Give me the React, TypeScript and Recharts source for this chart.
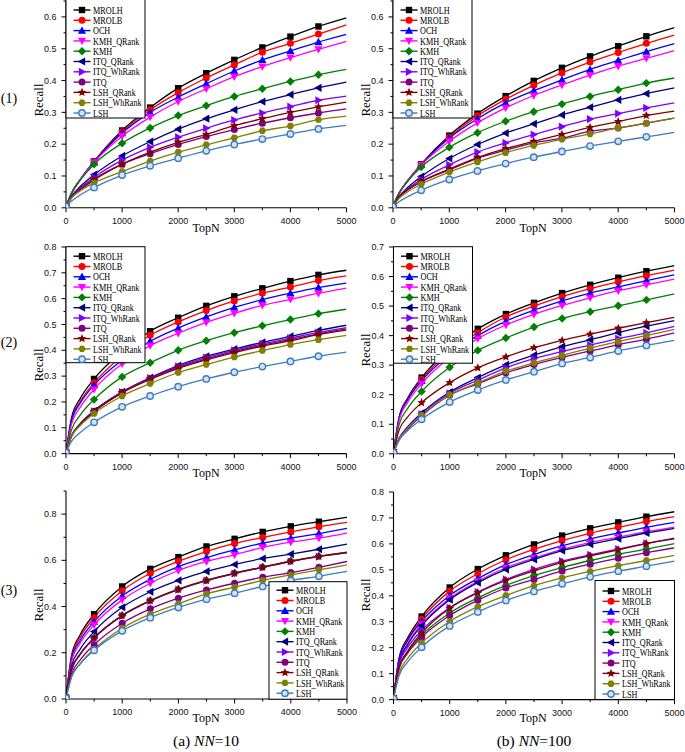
import React from "react"
import { Line, LineChart, XAxis, YAxis } from "recharts"

// Recall vs TopN, three datasets (rows) x two neighbour counts (columns).
const SERIES = [
  "MROLH",
  "MROLB",
  "OCH",
  "KMH_QRank",
  "KMH",
  "ITQ_QRank",
  "ITQ_WhRank",
  "ITQ",
  "LSH_QRank",
  "LSH_WhRank",
  "LSH",
]
const COLORS = [
  "#000000",
  "#ff0000",
  "#0000ff",
  "#ff00ff",
  "#008000",
  "#000080",
  "#8000ff",
  "#800080",
  "#800000",
  "#808000",
  "#3c7dbf",
]
const MARKERS = ["square", "circle", "up", "down", "diamond", "left", "right", "circle", "star", "hex", "ring"]

const TOPN = [0, 100, 250, 500, 1000, 1500, 2000, 2500, 3000, 3500, 4000, 4500, 5000]
const X_TICKS = [0, 500, 1000, 1500, 2000, 2500, 3000, 3500, 4000, 4500, 5000]
const X_LABELS = [0, 1000, 2000, 3000, 4000, 5000]

// (1), NN=10
const ROW1_NN10 = [
  [0.004, 0.046, 0.088, 0.146, 0.243, 0.315, 0.376, 0.423, 0.465, 0.504, 0.538, 0.57, 0.597],
  [0.004, 0.046, 0.088, 0.145, 0.239, 0.308, 0.362, 0.408, 0.449, 0.489, 0.517, 0.546, 0.575],
  [0.004, 0.045, 0.087, 0.143, 0.235, 0.3, 0.348, 0.39, 0.43, 0.465, 0.493, 0.521, 0.545],
  [0.004, 0.046, 0.088, 0.143, 0.225, 0.285, 0.334, 0.374, 0.412, 0.444, 0.472, 0.498, 0.523],
  [0.004, 0.048, 0.086, 0.137, 0.203, 0.251, 0.29, 0.321, 0.35, 0.374, 0.397, 0.418, 0.435],
  [0.004, 0.037, 0.066, 0.104, 0.163, 0.208, 0.247, 0.28, 0.308, 0.334, 0.356, 0.377, 0.395],
  [0.004, 0.034, 0.062, 0.096, 0.15, 0.19, 0.222, 0.25, 0.276, 0.298, 0.318, 0.338, 0.351],
  [0.004, 0.034, 0.059, 0.09, 0.137, 0.17, 0.199, 0.224, 0.246, 0.266, 0.283, 0.298, 0.311],
  [0.004, 0.031, 0.055, 0.087, 0.137, 0.175, 0.206, 0.231, 0.258, 0.28, 0.3, 0.317, 0.332],
  [0.004, 0.032, 0.053, 0.078, 0.114, 0.147, 0.175, 0.198, 0.22, 0.242, 0.257, 0.277, 0.288],
  [0.004, 0.021, 0.04, 0.064, 0.103, 0.132, 0.156, 0.179, 0.199, 0.216, 0.232, 0.248, 0.259],
]

// (1), NN=100
const ROW1_NN100 = [
  [0.004, 0.043, 0.083, 0.137, 0.227, 0.296, 0.351, 0.399, 0.44, 0.476, 0.508, 0.539, 0.566],
  [0.004, 0.043, 0.083, 0.136, 0.222, 0.289, 0.341, 0.385, 0.424, 0.458, 0.488, 0.517, 0.543],
  [0.004, 0.043, 0.082, 0.135, 0.219, 0.28, 0.33, 0.368, 0.402, 0.435, 0.463, 0.491, 0.516],
  [0.004, 0.044, 0.083, 0.134, 0.209, 0.267, 0.314, 0.353, 0.386, 0.417, 0.445, 0.47, 0.494],
  [0.004, 0.045, 0.081, 0.128, 0.19, 0.236, 0.272, 0.302, 0.326, 0.35, 0.371, 0.392, 0.408],
  [0.004, 0.034, 0.062, 0.098, 0.155, 0.199, 0.235, 0.264, 0.292, 0.316, 0.339, 0.359, 0.377],
  [0.004, 0.033, 0.058, 0.089, 0.135, 0.175, 0.204, 0.23, 0.255, 0.279, 0.296, 0.314, 0.33],
  [0.004, 0.032, 0.055, 0.082, 0.119, 0.155, 0.181, 0.204, 0.219, 0.24, 0.251, 0.266, 0.282],
  [0.004, 0.032, 0.055, 0.082, 0.122, 0.158, 0.186, 0.209, 0.231, 0.253, 0.271, 0.29, 0.304],
  [0.004, 0.028, 0.049, 0.074, 0.112, 0.144, 0.173, 0.196, 0.215, 0.232, 0.251, 0.266, 0.282],
  [0.004, 0.018, 0.034, 0.055, 0.089, 0.116, 0.139, 0.159, 0.177, 0.194, 0.209, 0.223, 0.237],
]

// (2), NN=10
const ROW2_NN10 = [
  [0.004, 0.14, 0.212, 0.289, 0.395, 0.474, 0.526, 0.572, 0.609, 0.64, 0.668, 0.692, 0.71],
  [0.004, 0.13, 0.2, 0.274, 0.378, 0.458, 0.51, 0.554, 0.591, 0.621, 0.645, 0.67, 0.688],
  [0.004, 0.128, 0.194, 0.265, 0.362, 0.435, 0.486, 0.529, 0.566, 0.596, 0.621, 0.643, 0.66],
  [0.004, 0.115, 0.178, 0.249, 0.348, 0.418, 0.466, 0.508, 0.543, 0.574, 0.597, 0.621, 0.641],
  [0.004, 0.093, 0.148, 0.209, 0.297, 0.352, 0.4, 0.437, 0.468, 0.495, 0.519, 0.542, 0.559],
  [0.004, 0.07, 0.115, 0.166, 0.239, 0.294, 0.341, 0.377, 0.405, 0.431, 0.454, 0.477, 0.497],
  [0.004, 0.069, 0.113, 0.164, 0.238, 0.292, 0.338, 0.372, 0.4, 0.425, 0.447, 0.469, 0.488],
  [0.004, 0.068, 0.112, 0.163, 0.237, 0.29, 0.334, 0.367, 0.395, 0.42, 0.442, 0.464, 0.483],
  [0.004, 0.068, 0.112, 0.162, 0.235, 0.287, 0.33, 0.363, 0.391, 0.416, 0.437, 0.461, 0.478],
  [0.004, 0.067, 0.108, 0.155, 0.223, 0.271, 0.314, 0.345, 0.374, 0.399, 0.422, 0.441, 0.458],
  [0.004, 0.048, 0.081, 0.121, 0.181, 0.223, 0.259, 0.289, 0.315, 0.337, 0.357, 0.377, 0.393],
]

// (2), NN=100
const ROW2_NN100 = [
  [0.004, 0.123, 0.188, 0.258, 0.355, 0.423, 0.473, 0.511, 0.544, 0.572, 0.596, 0.618, 0.637],
  [0.004, 0.122, 0.184, 0.252, 0.345, 0.41, 0.463, 0.5, 0.532, 0.559, 0.582, 0.603, 0.622],
  [0.004, 0.121, 0.182, 0.247, 0.336, 0.4, 0.449, 0.486, 0.518, 0.544, 0.565, 0.586, 0.606],
  [0.004, 0.113, 0.173, 0.237, 0.326, 0.39, 0.436, 0.472, 0.502, 0.528, 0.552, 0.572, 0.591],
  [0.004, 0.099, 0.153, 0.211, 0.293, 0.35, 0.392, 0.429, 0.458, 0.481, 0.501, 0.521, 0.541],
  [0.004, 0.053, 0.091, 0.138, 0.209, 0.258, 0.301, 0.334, 0.363, 0.386, 0.41, 0.432, 0.451],
  [0.004, 0.051, 0.088, 0.134, 0.205, 0.249, 0.291, 0.322, 0.346, 0.368, 0.39, 0.409, 0.431],
  [0.004, 0.047, 0.083, 0.128, 0.198, 0.237, 0.274, 0.302, 0.326, 0.348, 0.369, 0.388, 0.409],
  [0.004, 0.08, 0.124, 0.173, 0.241, 0.291, 0.328, 0.359, 0.384, 0.405, 0.425, 0.444, 0.462],
  [0.004, 0.049, 0.086, 0.131, 0.2, 0.24, 0.28, 0.308, 0.333, 0.358, 0.38, 0.4, 0.421],
  [0.004, 0.046, 0.078, 0.117, 0.175, 0.216, 0.25, 0.278, 0.306, 0.326, 0.348, 0.367, 0.384],
]

// (3), NN=10
const ROW3_NN10 = [
  [0.004, 0.19, 0.277, 0.367, 0.487, 0.563, 0.614, 0.66, 0.693, 0.723, 0.747, 0.767, 0.786],
  [0.004, 0.182, 0.265, 0.352, 0.468, 0.544, 0.596, 0.638, 0.673, 0.699, 0.723, 0.745, 0.764],
  [0.004, 0.174, 0.252, 0.335, 0.446, 0.518, 0.573, 0.612, 0.645, 0.674, 0.696, 0.716, 0.738],
  [0.004, 0.163, 0.24, 0.321, 0.429, 0.501, 0.556, 0.595, 0.624, 0.656, 0.679, 0.696, 0.718],
  [0.004, 0.128, 0.193, 0.264, 0.362, 0.426, 0.475, 0.514, 0.545, 0.571, 0.597, 0.618, 0.635],
  [0.004, 0.144, 0.215, 0.292, 0.397, 0.464, 0.513, 0.552, 0.582, 0.608, 0.627, 0.648, 0.67],
  [0.004, 0.127, 0.192, 0.262, 0.36, 0.424, 0.473, 0.512, 0.543, 0.569, 0.595, 0.616, 0.633],
  [0.004, 0.108, 0.168, 0.235, 0.328, 0.39, 0.436, 0.472, 0.501, 0.527, 0.547, 0.57, 0.595],
  [0.004, 0.128, 0.194, 0.265, 0.361, 0.425, 0.474, 0.513, 0.544, 0.57, 0.596, 0.617, 0.634],
  [0.004, 0.095, 0.152, 0.215, 0.306, 0.367, 0.412, 0.455, 0.484, 0.513, 0.537, 0.559, 0.58],
  [0.004, 0.097, 0.151, 0.211, 0.295, 0.352, 0.396, 0.432, 0.458, 0.487, 0.513, 0.531, 0.552],
]

// (3), NN=100
const ROW3_NN100 = [
  [0.004, 0.161, 0.237, 0.32, 0.432, 0.503, 0.556, 0.598, 0.632, 0.66, 0.683, 0.705, 0.724],
  [0.004, 0.156, 0.23, 0.31, 0.418, 0.485, 0.539, 0.579, 0.613, 0.641, 0.664, 0.686, 0.705],
  [0.004, 0.156, 0.227, 0.301, 0.401, 0.466, 0.52, 0.559, 0.593, 0.619, 0.642, 0.664, 0.683],
  [0.004, 0.146, 0.215, 0.29, 0.39, 0.456, 0.508, 0.545, 0.579, 0.605, 0.626, 0.647, 0.665],
  [0.004, 0.125, 0.184, 0.248, 0.334, 0.392, 0.44, 0.478, 0.509, 0.536, 0.56, 0.58, 0.601],
  [0.004, 0.143, 0.211, 0.285, 0.385, 0.451, 0.502, 0.54, 0.574, 0.599, 0.62, 0.642, 0.66],
  [0.004, 0.138, 0.2, 0.266, 0.354, 0.414, 0.463, 0.502, 0.534, 0.558, 0.58, 0.602, 0.622],
  [0.004, 0.121, 0.178, 0.24, 0.324, 0.383, 0.43, 0.463, 0.496, 0.522, 0.545, 0.566, 0.585],
  [0.004, 0.122, 0.186, 0.256, 0.352, 0.412, 0.459, 0.496, 0.529, 0.554, 0.577, 0.601, 0.619],
  [0.004, 0.102, 0.158, 0.218, 0.301, 0.358, 0.401, 0.439, 0.469, 0.494, 0.516, 0.536, 0.556],
  [0.004, 0.093, 0.144, 0.202, 0.284, 0.338, 0.382, 0.417, 0.446, 0.473, 0.495, 0.514, 0.534],
]

const Y_TICKS_065 = [0, 0.05, 0.1, 0.15, 0.2, 0.25, 0.3, 0.35, 0.4, 0.45, 0.5, 0.55, 0.6, 0.65]
const Y_LABELS_06 = [0, 0.1, 0.2, 0.3, 0.4, 0.5, 0.6]
const Y_TICKS_08 = [0, 0.05, 0.1, 0.15, 0.2, 0.25, 0.3, 0.35, 0.4, 0.45, 0.5, 0.55, 0.6, 0.65, 0.7, 0.75, 0.8]
const Y_LABELS_08 = [0, 0.1, 0.2, 0.3, 0.4, 0.5, 0.6, 0.7, 0.8]
const Y_TICKS_07 = [0, 0.05, 0.1, 0.15, 0.2, 0.25, 0.3, 0.35, 0.4, 0.45, 0.5, 0.55, 0.6, 0.65, 0.7]
const Y_LABELS_07 = [0, 0.1, 0.2, 0.3, 0.4, 0.5, 0.6, 0.7]
const Y_TICKS_09 = [0, 0.1, 0.2, 0.3, 0.4, 0.5, 0.6, 0.7, 0.8, 0.9]
const Y_LABELS_02 = [0, 0.2, 0.4, 0.6, 0.8]

const SERIF = "'Liberation Serif', 'Times New Roman', serif"
const SANS = "'Liberation Sans', Arial, sans-serif"
const YW = 30
const XH = 20

const PANELS = [
  { table: ROW1_NN10, col: 0, left: 66, right: 346.5, top: 0.5, bottom: 207.3, yMax: 0.65, ticks: Y_TICKS_065, labels: Y_LABELS_06, legend: { x: 66, y: -1, w: 79, h: 119, first: 11 }, recallY: 100, topNY: 228 },
  { table: ROW1_NN100, col: 1, left: 393, right: 674.5, top: 0.5, bottom: 207.3, yMax: 0.65, ticks: Y_TICKS_065, labels: Y_LABELS_06, legend: { x: 393, y: -1, w: 79, h: 119, first: 11 }, recallY: 100, topNY: 228 },
  { table: ROW2_NN10, col: 0, left: 66, right: 346.5, top: 246.7, bottom: 453.3, yMax: 0.8, ticks: Y_TICKS_08, labels: Y_LABELS_08, legend: { x: 66, y: 246.7, w: 79, h: 116, first: 9.5 }, recallY: 365, topNY: 473 },
  { table: ROW2_NN100, col: 1, left: 393.5, right: 674.5, top: 246.7, bottom: 453.5, yMax: 0.7, ticks: Y_TICKS_07, labels: Y_LABELS_07, legend: { x: 393.5, y: 246.7, w: 79, h: 116.5, first: 9.5 }, recallY: 350, topNY: 473 },
  { table: ROW3_NN10, col: 0, left: 66, right: 347, top: 491, bottom: 699, yMax: 0.9, ticks: Y_TICKS_09, labels: Y_LABELS_02, legend: { x: 269, y: 581.7, w: 78, h: 117.5, first: 8.5 }, recallY: 605, topNY: 718 },
  { table: ROW3_NN100, col: 1, left: 393.5, right: 674.5, top: 491.7, bottom: 699.3, yMax: 0.8, ticks: Y_TICKS_08, labels: Y_LABELS_08, legend: { x: 595, y: 580.5, w: 79.5, h: 119, first: 10.5 }, recallY: 595, topNY: 718 },
]

function pts(list: number[][], x: number, y: number) {
  return list.map(([dx, dy]) => `${x + dx},${y + dy}`).join(" ")
}

function Marker({ kind, x, y, color }: { kind: string; x: number; y: number; color: string }) {
  const r = 3.2
  switch (kind) {
    case "square":
      return <rect x={x - r} y={y - r} width={2 * r} height={2 * r} fill={color} />
    case "circle":
      return <circle cx={x} cy={y} r={r + 0.3} fill={color} />
    case "up":
      return <polygon points={pts([[0, -r - 1], [r + 0.9, r - 0.1], [-r - 0.9, r - 0.1]], x, y)} fill={color} />
    case "down":
      return <polygon points={pts([[0, r + 1], [r + 0.9, -r + 0.1], [-r - 0.9, -r + 0.1]], x, y)} fill={color} />
    case "left":
      return <polygon points={pts([[-r - 1, 0], [r - 0.1, -r - 0.9], [r - 0.1, r + 0.9]], x, y)} fill={color} />
    case "right":
      return <polygon points={pts([[r + 1, 0], [-r + 0.1, -r - 0.9], [-r + 0.1, r + 0.9]], x, y)} fill={color} />
    case "diamond":
      return <polygon points={pts([[0, -r - 1], [r + 1, 0], [0, r + 1], [-r - 1, 0]], x, y)} fill={color} />
    case "star": {
      const list: number[][] = []
      for (let i = 0; i < 10; i++) {
        const rad = i % 2 === 0 ? r + 1.4 : (r + 1.4) * 0.45
        const a = -Math.PI / 2 + (i * Math.PI) / 5
        list.push([rad * Math.cos(a), rad * Math.sin(a)])
      }
      return <polygon points={pts(list, x, y)} fill={color} />
    }
    case "hex": {
      const list: number[][] = []
      for (let i = 0; i < 6; i++) {
        const a = (i * Math.PI) / 3
        list.push([(r + 0.5) * Math.cos(a), (r + 0.5) * Math.sin(a)])
      }
      return <polygon points={pts(list, x, y)} fill={color} />
    }
    default:
      return <circle cx={x} cy={y} r={r} fill="#d4e3f3" stroke={color} strokeWidth={1.4} />
  }
}

const renderDot = (k: number) => (p: any) => {
  const t = p.payload?.topN
  const key = `dot-${k}-${p.index}`
  if (t === undefined || t % 500 !== 0 || t >= 5000) return <g key={key} />
  return (
    <g key={key}>
      <Marker kind={MARKERS[k]} x={p.cx} y={p.cy} color={COLORS[k]} />
    </g>
  )
}

function XTick(props: any) {
  const { x, y, payload } = props
  const major = X_LABELS.includes(payload.value)
  return (
    <g>
      <line x1={x} x2={x} y1={y} y2={y + (major ? 4.5 : 2.5)} stroke="#000" />
      {major && (
        <text x={x} y={y + 13} dy="0.35em" textAnchor="middle" fontSize={9} fontFamily={SANS} fill="#111">
          {payload.value}
        </text>
      )}
    </g>
  )
}

function YTick(props: any) {
  const { x, y, payload, labels } = props
  const v = payload.value as number
  const major = labels.some((m: number) => Math.abs(m - v) < 1e-6)
  return (
    <g>
      <line x1={x} x2={x - (major ? 4.5 : 2.5)} y1={y} y2={y} stroke="#000" />
      {major && (
        <text x={x - 9.5} y={y} dy="0.35em" textAnchor="end" fontSize={9} fontFamily={SANS} fill="#111">
          {v.toFixed(1)}
        </text>
      )}
    </g>
  )
}

function Panel({ cfg }: { cfg: (typeof PANELS)[number] }) {
  const data = TOPN.map((t, i) => {
    const row: Record<string, number> = { topN: t }
    cfg.table.forEach((s, k) => {
      row[SERIES[k]] = s[i]
    })
    return row
  })
  const cx = cfg.col === 0 ? 0 : 346
  const cw = cfg.col === 0 ? 362 : 339
  const cy = cfg.top - 10
  const ch = cfg.bottom - cy + XH + 4
  return (
    <div style={{ position: "absolute", left: cx, top: cy }}>
      <LineChart
        width={cw}
        height={ch}
        data={data}
        margin={{ top: cfg.top - cy, left: cfg.left - cx - YW, right: cx + cw - cfg.right, bottom: 4 }}
      >
        <XAxis
          dataKey="topN"
          type="number"
          domain={[0, 5000]}
          ticks={X_TICKS}
          interval={0}
          tickSize={0}
          tickMargin={0}
          tickLine={false}
          height={XH}
          axisLine={{ stroke: "#000", strokeWidth: 1.1 }}
          tick={<XTick />}
          allowDataOverflow
        />
        <YAxis
          type="number"
          domain={[0, cfg.yMax]}
          ticks={cfg.ticks}
          interval={0}
          tickSize={0}
          tickMargin={0}
          tickLine={false}
          width={YW}
          axisLine={{ stroke: "#000", strokeWidth: 1.1 }}
          tick={<YTick labels={cfg.labels} />}
          allowDataOverflow
        />
        {SERIES.map((name, k) => (
          <Line
            key={name}
            dataKey={name}
            type="monotone"
            stroke={COLORS[k]}
            strokeWidth={1.3}
            dot={renderDot(k)}
            activeDot={false}
            isAnimationActive={false}
          />
        ))}
      </LineChart>
    </div>
  )
}

function LegendBox({ x, y, w, h, first }: { x: number; y: number; w: number; h: number; first: number }) {
  return (
    <g>
      <rect x={x} y={y} width={w} height={h} fill="#fff" stroke="#000" strokeWidth={1} />
      {SERIES.map((name, k) => {
        const cy = y + first + k * 10.3
        return (
          <g key={name}>
            <line x1={x + 7.5} x2={x + 24.5} y1={cy} y2={cy} stroke={COLORS[k]} strokeWidth={1.4} />
            <Marker kind={MARKERS[k]} x={x + 16} y={cy} color={COLORS[k]} />
            <text
              transform={`translate(${x + 27} ${cy}) scale(0.78 1)`}
              dy="0.35em"
              fontSize={10.5}
              fontFamily={SERIF}
              fill="#000"
            >
              {name}
            </text>
          </g>
        )
      })}
    </g>
  )
}

export default function App() {
  return (
    <div style={{ position: "absolute", left: 0, top: 0, width: 685, height: 752, background: "#fff", overflow: "hidden" }}>
      {PANELS.map((cfg, i) => (
        <Panel key={i} cfg={cfg} />
      ))}
      <svg width={685} height={752} style={{ position: "absolute", left: 0, top: 0, pointerEvents: "none" }}>
        {PANELS.map((cfg, i) => (
          <g key={i}>
            <LegendBox {...cfg.legend} />
            <text
              transform={`translate(${cfg.col === 0 ? 38 : 365} ${cfg.recallY}) rotate(-90)`}
              textAnchor="middle"
              dy="0.35em"
              fontSize={13}
              fontFamily={SERIF}
            >
              Recall
            </text>
            <text x={cfg.col === 0 ? 206 : 533} y={cfg.topNY} dy="0.35em" textAnchor="middle" fontSize={12} fontFamily={SERIF}>
              TopN
            </text>
          </g>
        ))}
        {["(1)", "(2)", "(3)"].map((t, i) => (
          <text key={t} x={9} y={[98, 342, 590][i]} dy="0.35em" textAnchor="middle" fontSize={14} fontFamily={SERIF}>
            {t}
          </text>
        ))}
        <text x={206} y={741} dy="0.35em" textAnchor="middle" fontSize={15.5} fontFamily={SERIF}>
          (a) <tspan fontStyle="italic">NN</tspan>=10
        </text>
        <text x={534} y={741} dy="0.35em" textAnchor="middle" fontSize={15.5} fontFamily={SERIF}>
          (b) <tspan fontStyle="italic">NN</tspan>=100
        </text>
      </svg>
    </div>
  )
}
